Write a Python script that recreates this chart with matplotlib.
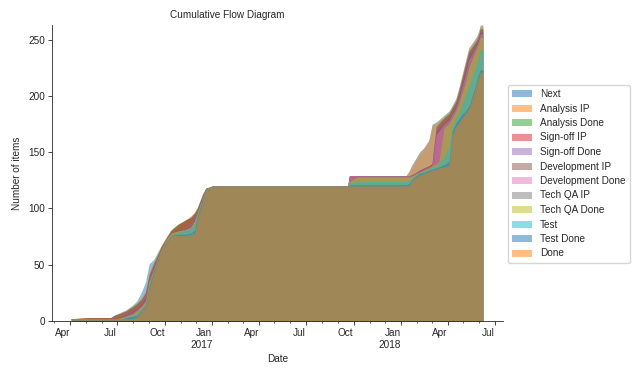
import matplotlib
matplotlib.use("Agg")
import pandas as pd
import seaborn as sns
from matplotlib import pyplot as plt
import matplotlib.dates as mdates
from matplotlib.ticker import FuncFormatter

# dates of the readings (values are linearly joined like pandas does)
dates = [
    "2016-04-05", "2016-05-10", "2016-06-20", "2016-06-27", "2016-07-10", "2016-07-20",
    "2016-08-01", "2016-08-10", "2016-08-19", "2016-08-27", "2016-09-03", "2016-09-12",
    "2016-09-19", "2016-09-26", "2016-10-05", "2016-10-15", "2016-10-28", "2016-11-09",
    "2016-11-22", "2016-11-30", "2016-12-05", "2016-12-15", "2016-12-21",
    "2017-01-03", "2017-09-22", "2017-09-25", "2017-10-09",
    "2018-01-12", "2018-01-18", "2018-01-24", "2018-02-01", "2018-02-07", "2018-02-16",
    "2018-02-26", "2018-03-04", "2018-03-12", "2018-03-17", "2018-03-27", "2018-04-06",
    "2018-04-12", "2018-04-19", "2018-04-25", "2018-05-01", "2018-05-08", "2018-05-14",
    "2018-05-20", "2018-05-26", "2018-05-30", "2018-06-03", "2018-06-05", "2018-06-08",
]

# cumulative number of items per state
next_items = [1, 2, 2, 4, 7, 9, 13, 17, 25, 34, 50, 54, 60, 66, 73, 80, 85, 88, 92, 96, 100, 112, 117,
              119, 119, 128, 128,
              128, 132, 138, 144, 149, 153, 160, 174, 176, 178, 182, 186, 191, 197, 207, 218, 231, 242,
              246, 250, 253, 258, 262, 262]
analysis_ip = [1, 2, 2, 4, 6, 8, 12, 15, 20, 26, 42, 52, 59, 66, 73, 80, 85, 88, 92, 96, 100, 112, 117,
               119, 119, 128, 128,
               128, 132, 137, 143, 148, 153, 160, 173, 175, 177, 181, 185, 190, 196, 206, 217, 230, 241,
               245, 249, 252, 257, 261, 261]
analysis_done = [1, 2, 2, 4, 6, 8, 12, 15, 19, 25, 41, 51, 58, 65, 72, 80, 85, 88, 91, 95, 99, 111, 117,
                 119, 119, 128, 128,
                 128, 128, 129, 131, 133, 135, 137, 139, 172, 175, 180, 184, 189, 195, 204, 215, 228, 239,
                 243, 247, 250, 255, 259, 259]
signoff_ip = [1, 2, 2, 4, 6, 8, 11, 14, 18, 24, 40, 50, 57, 65, 72, 79, 84, 88, 91, 95, 99, 111, 117,
              119, 119, 128, 128,
              128, 128, 129, 131, 133, 135, 137, 139, 171, 174, 179, 183, 188, 194, 203, 214, 227, 238,
              242, 246, 249, 254, 258, 258]
signoff_done = [1, 1, 1, 2, 4, 6, 9, 12, 16, 22, 38, 48, 56, 64, 71, 77, 80, 82, 86, 92, 97, 110, 116,
                119, 119, 128, 128,
                128, 128, 129, 131, 133, 135, 137, 139, 170, 172, 177, 181, 186, 192, 202, 213, 226, 237,
                241, 245, 248, 253, 257, 257]
dev_ip = [1, 1, 1, 2, 3, 5, 8, 11, 15, 20, 37, 47, 55, 64, 71, 77, 80, 81, 84, 90, 96, 110, 116,
          119, 119, 128, 128,
          128, 128, 129, 131, 133, 135, 137, 139, 168, 171, 176, 180, 185, 191, 200, 211, 224, 235,
          239, 244, 247, 252, 256, 256]
dev_done = [1, 1, 1, 1, 2, 4, 6, 9, 13, 18, 36, 46, 55, 63, 71, 77, 79, 80, 83, 89, 95, 109, 116,
            119, 119, 128, 128,
            128, 128, 128, 130, 132, 134, 136, 138, 165, 168, 174, 178, 183, 189, 197, 207, 219, 231,
            236, 242, 245, 250, 254, 254]
qa_ip = [1, 1, 1, 1, 2, 4, 6, 8, 12, 17, 35, 45, 54, 63, 71, 77, 79, 80, 83, 89, 95, 109, 116,
         119, 119, 124, 128,
         128, 128, 128, 130, 132, 134, 136, 138, 140, 142, 173, 177, 182, 188, 196, 205, 216, 228,
         234, 241, 244, 249, 253, 253]
qa_done = [1, 1, 1, 1, 2, 3, 5, 8, 12, 16, 34, 45, 54, 63, 71, 77, 79, 80, 82, 88, 95, 109, 116,
           119, 119, 123, 127,
           127, 127, 128, 130, 131, 133, 135, 137, 139, 141, 171, 175, 180, 186, 193, 202, 212, 224,
           231, 238, 242, 247, 251, 251]
test = [1, 1, 1, 1, 1, 2, 4, 6, 10, 14, 31, 44, 53, 62, 70, 76, 78, 79, 81, 86, 93, 108, 116,
        119, 119, 121, 123,
        123, 124, 126, 129, 131, 132, 134, 136, 137, 139, 145, 155, 172, 180, 184, 192, 200, 208,
        216, 224, 230, 236, 240, 240]
test_done = [1, 1, 1, 1, 1, 2, 3, 4, 9, 13, 30, 44, 53, 62, 70, 75, 76, 76, 77, 80, 92, 107, 115,
             119, 119, 120, 120,
             120, 121, 125, 128, 130, 131, 133, 134, 135, 136, 138, 141, 168, 175, 179, 183, 186, 190,
             198, 207, 214, 220, 222, 222]
done = [1, 1, 1, 1, 1, 1, 1, 3, 8, 12, 28, 42, 52, 62, 70, 75, 75, 75, 76, 77, 90, 105, 115,
        119, 119, 119, 119,
        119, 119, 124, 127, 129, 130, 132, 133, 134, 135, 136, 138, 165, 172, 176, 180, 184, 188,
        196, 205, 212, 217, 220, 220]

states = ["Next", "Analysis IP", "Analysis Done", "Sign-off IP", "Sign-off Done",
          "Development IP", "Development Done", "Tech QA IP", "Tech QA Done",
          "Test", "Test Done", "Done"]
series = [next_items, analysis_ip, analysis_done, signoff_ip, signoff_done, dev_ip,
          dev_done, qa_ip, qa_done, test, test_done, done]

sns.set_style("ticks")
plt.rcParams["font.family"] = ["Liberation Sans", "DejaVu Sans"]
fs = 7.2

fig = plt.figure(figsize=(6.4, 3.77), dpi=100)
ax = fig.add_axes([52 / 640, 56 / 377, 451 / 640, 296 / 377])

x = pd.to_datetime(dates)
for i, (name, vals) in enumerate(zip(states, series)):
    col = f"C{i % 10}"
    ax.plot(x, vals, color=col, alpha=0.5, lw=1.0)
    ax.fill_between(x, 0, vals, color=col, alpha=0.5, lw=0, label=name)

ax.set_xlim(pd.Timestamp("2016-02-26"), pd.Timestamp("2018-07-17"))
ax.set_ylim(0, 263)

# pandas-like date ticks: quarters labelled, months as minor ticks
ax.xaxis.set_major_locator(mdates.MonthLocator(bymonth=(1, 4, 7, 10)))
ax.xaxis.set_minor_locator(mdates.MonthLocator())


def fmt_month(v, pos=None):
    d = mdates.num2date(v)
    if d.month == 1:
        return d.strftime("%b") + "\n" + str(d.year)
    return d.strftime("%b")


ax.xaxis.set_major_formatter(FuncFormatter(fmt_month))
ax.xaxis.set_minor_formatter(FuncFormatter(lambda v, p: ""))
plt.setp(ax.get_xticklabels(), ha="right")

ax.tick_params(which="major", labelsize=fs, length=2.6, width=0.6, pad=2.5)
ax.tick_params(which="minor", length=1.5, width=0.5)
for sp in ax.spines.values():
    sp.set_linewidth(0.6)
sns.despine(ax=ax)

ax.set_title("Cumulative Flow Diagram", fontsize=fs, x=0.388, pad=5)
ax.set_xlabel("Date", fontsize=fs, labelpad=3)
ax.set_ylabel("Number of items", fontsize=fs, labelpad=4)

ax.legend(loc="upper left", bbox_to_anchor=(508 / 640, 1 - 85 / 377),
          bbox_transform=fig.transFigure, fontsize=fs, labelspacing=0.45,
          borderpad=0.4, handlelength=2.0, handleheight=0.7, handletextpad=0.8,
          borderaxespad=0, frameon=True)

fig.savefig("out.png", dpi=100)
